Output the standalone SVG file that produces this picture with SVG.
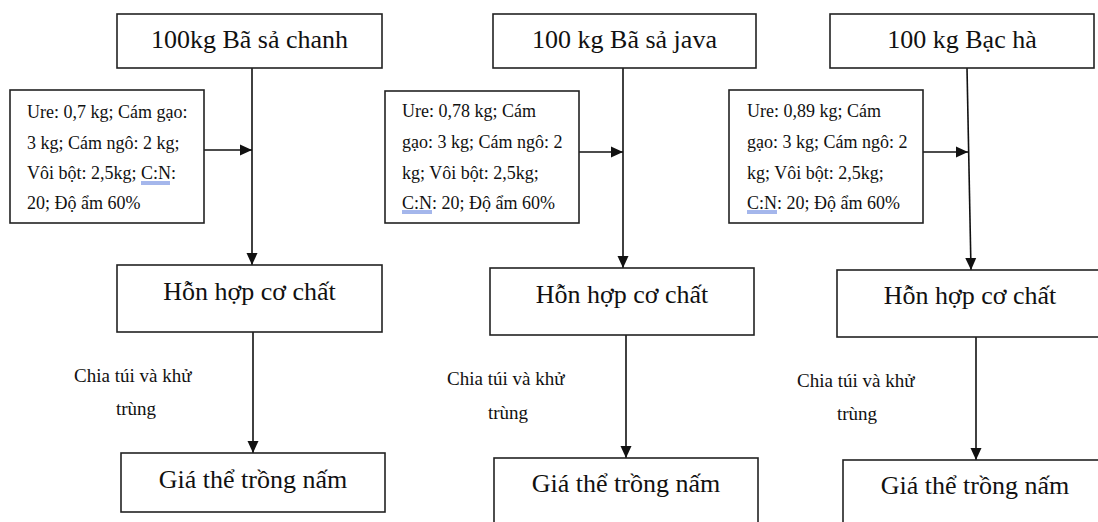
<svg xmlns="http://www.w3.org/2000/svg" width="1098" height="522" viewBox="0 0 1098 522">
<defs>
<style>
.box{fill:#fff;stroke:#222;stroke-width:1.6}
.t{font-family:'Liberation Serif','Times New Roman',serif;fill:#111}
.big{font-size:26px;text-anchor:middle}
.small{font-size:18px}
.lbl{font-size:19px}
.conn{stroke:#111;stroke-width:1.6;fill:none}
.ul{stroke:#4a6fd8;stroke-width:1;fill:none}
</style>
<marker id="arr" markerUnits="userSpaceOnUse" viewBox="0 0 12 12" refX="12" refY="6" markerWidth="12" markerHeight="12" orient="auto">
<path d="M0,0.5 L12,6 L0,11.5 z" fill="#111"/>
</marker>
</defs>
<rect width="1098" height="522" fill="#fff"/>

<g id="connectors">
<line class="conn" x1="252" y1="68" x2="252" y2="265" marker-end="url(#arr)"/>
<line class="conn" x1="204" y1="150" x2="252" y2="150" marker-end="url(#arr)"/>
<line class="conn" x1="253" y1="332" x2="253" y2="453" marker-end="url(#arr)"/>
<line class="conn" x1="623" y1="68" x2="623" y2="268" marker-end="url(#arr)"/>
<line class="conn" x1="579" y1="152" x2="623" y2="152" marker-end="url(#arr)"/>
<line class="conn" x1="626" y1="335" x2="626" y2="458" marker-end="url(#arr)"/>
<line class="conn" x1="967" y1="68" x2="971" y2="270" marker-end="url(#arr)"/>
<line class="conn" x1="923" y1="152" x2="968" y2="152" marker-end="url(#arr)"/>
<line class="conn" x1="976" y1="337" x2="976" y2="460" marker-end="url(#arr)"/>
</g>

<g id="top1"><rect class="box" x="117" y="14" width="265" height="54"/><text class="t big" font-family="'Liberation Serif', serif" x="249.5" y="48">100kg Bã sả chanh</text></g>
<g id="top2"><rect class="box" x="493" y="14" width="263" height="54"/><text class="t big" font-family="'Liberation Serif', serif" x="624.5" y="48">100 kg Bã sả java</text></g>
<g id="top3"><rect class="box" x="830" y="14" width="264" height="54"/><text class="t big" font-family="'Liberation Serif', serif" x="962" y="48">100 kg Bạc hà</text></g>

<g id="ingr1"><rect class="box" x="10" y="90" width="194" height="133"/>
<text class="t small" font-family="'Liberation Serif', serif"><tspan x="27" y="118">Ure: 0,7 kg; Cám gạo:</tspan><tspan x="27" y="148.5">3 kg; Cám ngô: 2 kg;</tspan><tspan x="27" y="179">Vôi bột: 2,5kg; C:N:</tspan><tspan x="27" y="209">20; Độ ẩm 60%</tspan></text>
<path class="ul" d="M141,182H170M141,184H170"/>
</g>
<g id="ingr2"><rect class="box" x="385" y="91" width="194" height="132"/>
<text class="t small" font-family="'Liberation Serif', serif"><tspan x="402" y="117">Ure: 0,78 kg; Cám</tspan><tspan x="402" y="148">gạo: 3 kg; Cám ngô: 2</tspan><tspan x="402" y="179">kg; Vôi bột: 2,5kg;</tspan><tspan x="402" y="208.5">C:N: 20; Độ ẩm 60%</tspan></text>
<path class="ul" d="M402,211H432M402,213H432"/>
</g>
<g id="ingr3"><rect class="box" x="729" y="90" width="194" height="133"/>
<text class="t small" font-family="'Liberation Serif', serif"><tspan x="747" y="117">Ure: 0,89 kg; Cám</tspan><tspan x="747" y="148">gạo: 3 kg; Cám ngô: 2</tspan><tspan x="747" y="179">kg; Vôi bột: 2,5kg;</tspan><tspan x="747" y="208.5">C:N: 20; Độ ẩm 60%</tspan></text>
<path class="ul" d="M747,211H777M747,213H777"/>
</g>

<g id="mix1"><rect class="box" x="117" y="265" width="265" height="67"/><text class="t big" font-family="'Liberation Serif', serif" x="249.5" y="300">Hỗn hợp cơ chất</text></g>
<g id="mix2"><rect class="box" x="490" y="268" width="264" height="67"/><text class="t big" font-family="'Liberation Serif', serif" x="622" y="303">Hỗn hợp cơ chất</text></g>
<g id="mix3"><rect class="box" x="837" y="270" width="266" height="67"/><text class="t big" font-family="'Liberation Serif', serif" x="970" y="304">Hỗn hợp cơ chất</text></g>

<g id="label1"><text class="t lbl" font-family="'Liberation Serif', serif"><tspan x="74" y="382">Chia túi và khử</tspan><tspan x="116" y="415">trùng</tspan></text></g>
<g id="label2"><text class="t lbl" font-family="'Liberation Serif', serif"><tspan x="447" y="385">Chia túi và khử</tspan><tspan x="488" y="419">trùng</tspan></text></g>
<g id="label3"><text class="t lbl" font-family="'Liberation Serif', serif"><tspan x="797" y="387">Chia túi và khử</tspan><tspan x="837" y="420">trùng</tspan></text></g>

<g id="sub1"><rect class="box" x="121" y="453" width="264" height="59"/><text class="t big" font-family="'Liberation Serif', serif" x="253" y="488">Giá thể trồng nấm</text></g>
<g id="sub2"><rect class="box" x="494" y="458" width="264" height="70"/><text class="t big" font-family="'Liberation Serif', serif" x="626" y="492">Giá thể trồng nấm</text></g>
<g id="sub3"><rect class="box" x="843" y="460" width="264" height="70"/><text class="t big" font-family="'Liberation Serif', serif" x="975" y="494">Giá thể trồng nấm</text></g>
</svg>
